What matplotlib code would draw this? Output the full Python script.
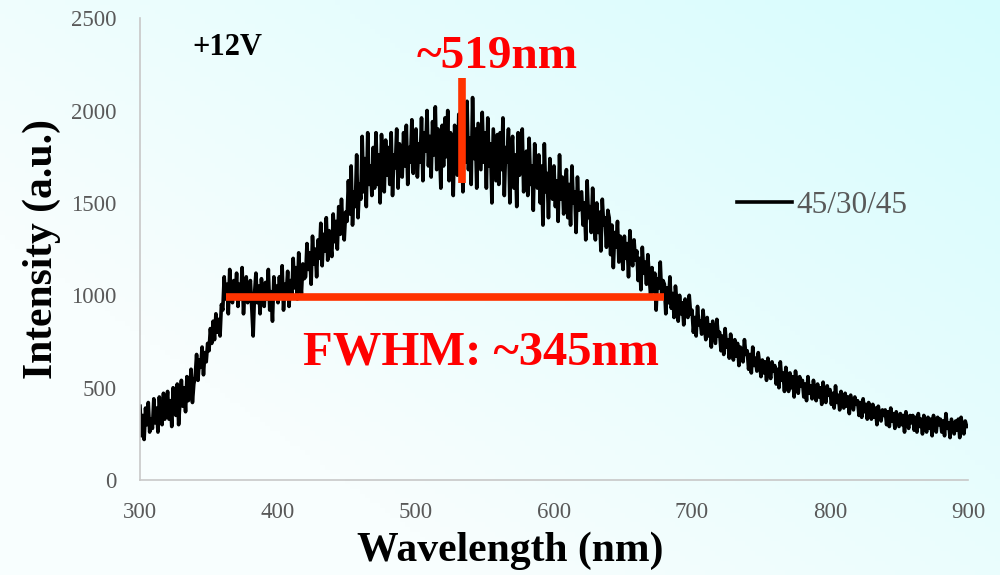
import numpy as np
import matplotlib.pyplot as plt
from matplotlib.colors import LinearSegmentedColormap

# wavelength grid (nm), 1 nm steps from 300 to 900
wl_start, wl_step = 300, 1
intensity = [
    400, 240, 350, 220, 390, 300, 420, 260, 330, 280,
    440, 310, 390, 260, 450, 340, 300, 470, 330, 390,
    480, 330, 430, 290, 500, 380, 350, 520, 300, 430,
    540, 400, 500, 370, 560, 430, 470, 600, 420, 520,
    560, 680, 540, 650, 610, 720, 570, 690, 640, 740,
    700, 820, 740, 860, 760, 900, 800, 870, 780, 950,
    920, 1100, 980, 1060, 900, 1140, 1010, 960, 1080, 1000,
    1120, 940, 1060, 980, 1150, 900, 1040, 1100, 960, 1030,
    1080, 930, 780, 1010, 1120, 960, 1050, 900, 1090, 990,
    940, 1070, 980, 1140, 920, 1020, 860, 1100, 990, 1050,
    960, 1100, 1000, 1160, 920, 1060, 1010, 1130, 940, 1080,
    1000, 1200, 1040, 1150, 980, 1230, 1080, 1010, 1170, 1090,
    1100, 1280, 1140, 1230, 1060, 1320, 1170, 1250, 1100, 1300,
    1200, 1390, 1160, 1330, 1240, 1420, 1190, 1350, 1280, 1210,
    1440, 1290, 1400, 1250, 1480, 1330, 1520, 1360, 1300, 1450,
    1400, 1620, 1440, 1700, 1380, 1560, 1480, 1760, 1420, 1600,
    1520, 1860, 1560, 1740, 1480, 1880, 1600, 1700, 1540, 1800,
    1580, 1880, 1600, 1760, 1500, 1870, 1700, 1560, 1840, 1650,
    1800, 1600, 1880, 1540, 1760, 1690, 1900, 1580, 1820, 1650,
    1640, 1880, 1700, 1920, 1600, 1800, 1720, 1950, 1660, 1830,
    1900, 1640, 1820, 1720, 1960, 1620, 1880, 1780, 2000, 1700,
    1860, 1640, 1940, 1760, 2020, 1680, 1900, 1800, 1580, 1920,
    1700, 1960, 1750, 2000, 1620, 1880, 1800, 1540, 1920, 1760,
    1650, 1980, 1780, 1880, 1560, 1960, 1720, 2050, 1680, 1850,
    1600, 2070, 1740, 1900, 1580, 1930, 1800, 1680, 1990, 1720,
    1880, 1580, 1960, 1700, 1820, 1500, 1900, 1760, 1620, 1870,
    1600, 1880, 1680, 1960, 1540, 1800, 1720, 1900, 1500, 1780,
    1860, 1580, 1760, 1480, 1880, 1650, 1720, 1900, 1560, 1700,
    1780, 1540, 1850, 1600, 1700, 1460, 1820, 1660, 1580, 1760,
    1500, 1700, 1380, 1820, 1560, 1660, 1420, 1740, 1600, 1520,
    1700, 1480, 1620, 1400, 1760, 1520, 1640, 1440, 1580, 1680,
    1420, 1600, 1380, 1700, 1500, 1560, 1340, 1640, 1460, 1550,
    1560, 1380, 1500, 1300, 1620, 1420, 1480, 1340, 1580, 1400,
    1300, 1500, 1340, 1450, 1240, 1520, 1380, 1420, 1260, 1460,
    1420, 1220, 1380, 1150, 1340, 1260, 1400, 1180, 1320, 1240,
    1140, 1320, 1200, 1280, 1100, 1350, 1220, 1160, 1300, 1190,
    1240, 1080, 1200, 1030, 1260, 1120, 1180, 1060, 1220, 1100,
    1000, 1150, 1020, 1120, 920, 1090, 1040, 1180, 1000, 1080,
    1060, 900, 1040, 960, 1100, 930, 1010, 880, 1050, 970,
    860, 1000, 900, 960, 840, 980, 920, 880, 1000, 900,
    920, 800, 880, 780, 940, 840, 860, 790, 920, 830,
    760, 880, 780, 840, 720, 860, 800, 740, 870, 780,
    800, 700, 780, 680, 820, 720, 760, 660, 790, 710,
    650, 760, 670, 740, 620, 720, 690, 640, 760, 680,
    700, 600, 680, 580, 720, 620, 660, 590, 690, 630,
    560, 650, 580, 640, 540, 660, 600, 550, 640, 590,
    620, 520, 600, 500, 640, 540, 580, 480, 610, 550,
    480, 580, 500, 560, 450, 590, 520, 470, 560, 510,
    540, 450, 520, 430, 560, 470, 510, 440, 540, 480,
    430, 520, 450, 500, 410, 530, 460, 420, 510, 460,
    490, 410, 470, 390, 510, 420, 460, 380, 480, 430,
    390, 470, 400, 450, 360, 460, 420, 380, 450, 410,
    430, 350, 420, 340, 440, 370, 410, 330, 420, 380,
    330, 410, 340, 390, 300, 400, 350, 320, 380, 350,
    380, 300, 370, 290, 390, 320, 360, 280, 370, 330,
    290, 360, 300, 350, 260, 370, 320, 280, 350, 310,
    350, 270, 340, 260, 360, 290, 330, 250, 350, 300,
    260, 340, 280, 330, 240, 350, 290, 260, 340, 300,
    330, 260, 320, 240, 360, 280, 310, 230, 330, 290,
    250, 320, 270, 330, 230, 340, 280, 250, 320, 290,
    290,
]
wavelength = wl_start + wl_step * np.arange(len(intensity))

series_label = '45/30/45'
voltage_label = '+12V'
peak_label = '~519nm'
fwhm_label = 'FWHM: ~345nm'
fwhm_range = [362, 680]
fwhm_level = 990
peak_mark = 533
peak_range = [1610, 2175]

plt.rcParams['font.family'] = ['Liberation Serif', 'DejaVu Serif']

fig = plt.figure(figsize=(10, 5.75), dpi=100)

# gradient background: white bottom-left to light cyan top-right
bg = fig.add_axes([0, 0, 1, 1], zorder=-10)
gx, gy = np.meshgrid(np.linspace(0, 1, 200), np.linspace(0, 1, 120))
grad = np.clip(0.75 * gx + 0.6 * gy - 0.35, 0, 1)
cmap = LinearSegmentedColormap.from_list('bg', ['#f8fefe', '#d6fcfd'])
bg.imshow(grad, cmap=cmap, origin='lower', aspect='auto', extent=[0, 1, 0, 1])
bg.axis('off')

ax = fig.add_axes([0.14, 0.165, 0.828, 0.8035])
ax.patch.set_alpha(0)
ax.plot(wavelength, intensity, color='black', lw=2.6, label=series_label)

ax.set_xlim(300, 900)
ax.set_ylim(0, 2500)
ax.set_xticks(range(300, 901, 100))
ax.set_yticks(range(0, 2501, 500))
ax.tick_params(length=0, labelsize=16.5, labelcolor='#595959')
ax.tick_params(axis='x', pad=16)
ax.tick_params(axis='y', pad=17)
for s in ['top', 'right']:
    ax.spines[s].set_visible(False)
ax.spines['left'].set_color('#c8c8c8')
ax.spines['bottom'].set_color('#c8c8c8')
ax.spines['left'].set_linewidth(1.2)
ax.spines['bottom'].set_linewidth(1.2)

ax.set_xlabel('Wavelength (nm)', fontsize=30, fontweight='bold')
ax.xaxis.set_label_coords(0.447, -0.112)
ax.set_ylabel('Intensity (a.u.)', fontsize=30, fontweight='bold', labelpad=7)

# annotations
ax.plot(fwhm_range, [fwhm_level, fwhm_level], color='#ff3300', lw=5.5, solid_capstyle='butt')
ax.plot([peak_mark, peak_mark], peak_range, color='#ff3300', lw=5.5, solid_capstyle='butt')
ax.text(559, 2290, peak_label, color='#ff0000', fontsize=34, fontweight='bold',
        ha='center', va='center')
ax.text(547, 693, fwhm_label, color='#ff0000', fontsize=35, fontweight='bold',
        ha='center', va='center')
ax.text(363, 2343, voltage_label, color='black', fontsize=22, fontweight='bold',
        ha='center', va='center')

leg = ax.legend(loc='center left', bbox_to_anchor=(0.687, 0.595), frameon=False,
                fontsize=22.5, handlelength=1.75, handletextpad=0.15)
for t in leg.get_texts():
    t.set_color('#595959')

fig.savefig('out.png', dpi=100)
